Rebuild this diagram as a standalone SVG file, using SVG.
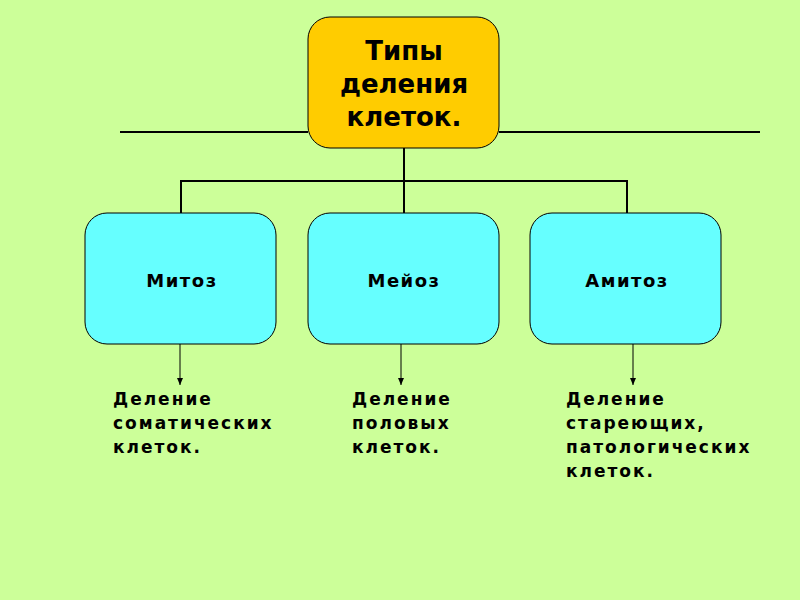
<svg xmlns="http://www.w3.org/2000/svg" width="800" height="600" viewBox="0 0 800 600">
<defs>
<style>
.t{font-family:"DejaVu Sans","Liberation Sans",sans-serif;font-weight:bold;fill:#000;}
.big{font-size:26px;text-anchor:middle;}
.lbl{font-size:18px;text-anchor:middle;letter-spacing:1.5px;}
.d{font-size:17px;letter-spacing:2px;}
.ln{stroke:#000;stroke-width:2;fill:none;}
.ar{stroke:#000;stroke-width:1;fill:none;}
.blue{fill:#66FFFF;stroke:#000;stroke-width:1;}
</style>
<marker id="ah" markerWidth="8" markerHeight="8" refX="7" refY="4" orient="auto" markerUnits="userSpaceOnUse">
<path d="M0,1 L7,4 L0,7 Z" fill="#000"/>
</marker>
</defs>
<rect width="800" height="600" fill="#CCFF99"/>
<g id="connectors">
<line class="ln" x1="120" y1="132" x2="308" y2="132"/>
<line class="ln" x1="499" y1="132" x2="760" y2="132"/>
<polyline class="ln" points="404,148 404,181"/>
<polyline class="ln" points="181,213 181,181 627,181 627,213"/>
<line class="ln" x1="404" y1="181" x2="404" y2="213"/>
<line class="ar" x1="180" y1="344" x2="180" y2="385" marker-end="url(#ah)"/>
<line class="ar" x1="401" y1="344" x2="401" y2="385" marker-end="url(#ah)"/>
<line class="ar" x1="633" y1="344" x2="633" y2="385" marker-end="url(#ah)"/>
</g>
<g id="root">
<rect x="308" y="17" width="191" height="131" rx="22" fill="#FFCC00" stroke="#000" stroke-width="1"/>
<text class="t big" x="404" y="60">Типы</text>
<text class="t big" x="404" y="93">деления</text>
<text class="t big" x="404" y="126">клеток.</text>
</g>
<g id="mitoz">
<rect class="blue" x="85" y="213" width="191" height="131" rx="22"/>
<text class="t lbl" x="182" y="287">Митоз</text>
</g>
<g id="meioz">
<rect class="blue" x="308" y="213" width="191" height="131" rx="22"/>
<text class="t lbl" x="404" y="287">Мейоз</text>
</g>
<g id="amitoz">
<rect class="blue" x="530" y="213" width="191" height="131" rx="22"/>
<text class="t lbl" x="627" y="287">Амитоз</text>
</g>
<g id="desc1">
<text class="t d" x="113" y="405">Деление</text>
<text class="t d" x="113" y="429">соматических</text>
<text class="t d" x="113" y="453">клеток.</text>
</g>
<g id="desc2">
<text class="t d" x="352" y="405">Деление</text>
<text class="t d" x="352" y="429">половых</text>
<text class="t d" x="352" y="453">клеток.</text>
</g>
<g id="desc3">
<text class="t d" x="566" y="405">Деление</text>
<text class="t d" x="566" y="429">стареющих,</text>
<text class="t d" x="566" y="453">патологических</text>
<text class="t d" x="566" y="477">клеток.</text>
</g>
</svg>
